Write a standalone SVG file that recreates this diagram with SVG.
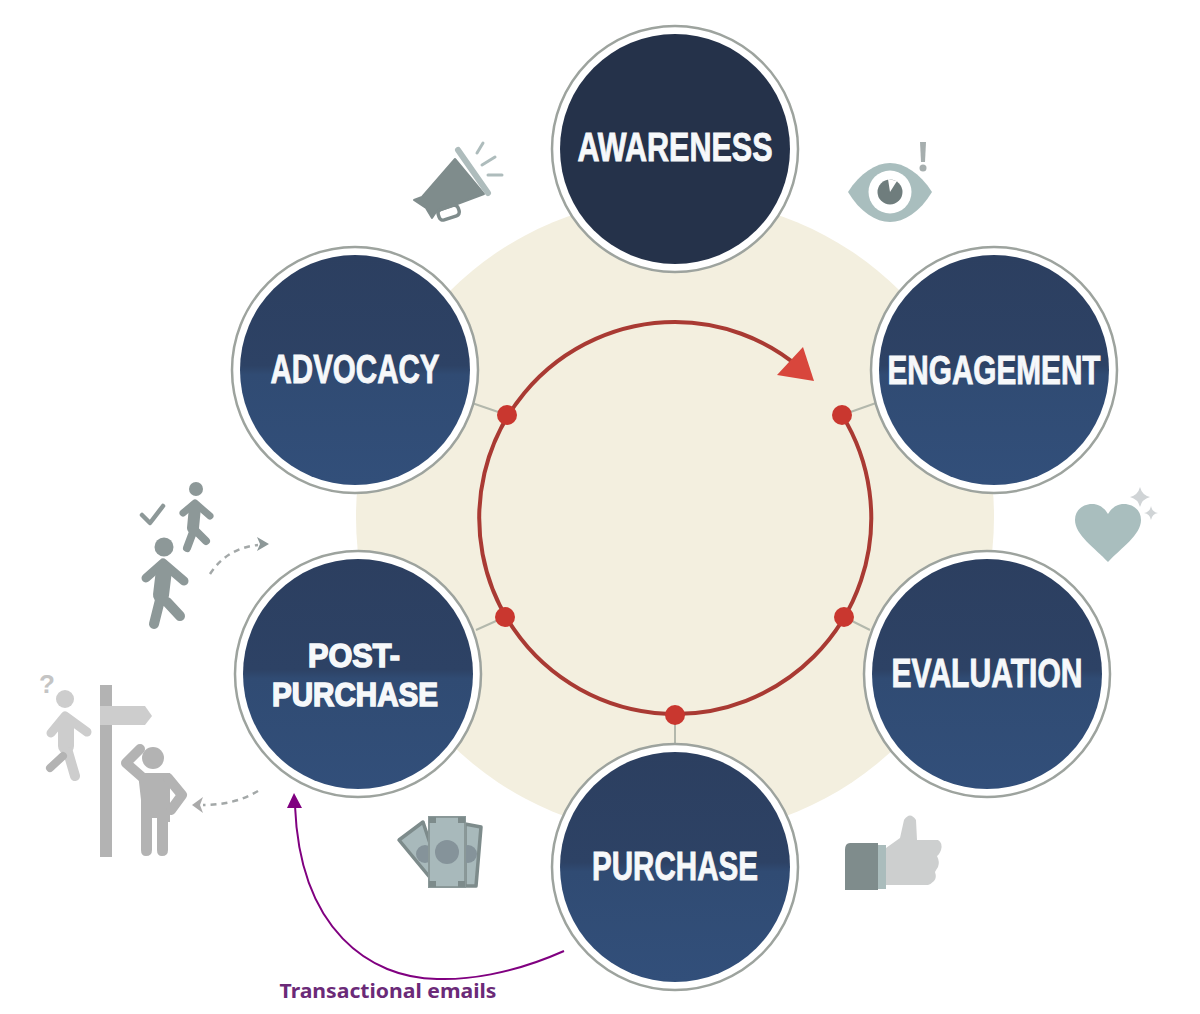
<svg xmlns="http://www.w3.org/2000/svg" width="1200" height="1014" viewBox="0 0 1200 1014">
<style>
.out{fill:#fff;stroke:#9da39e;stroke-width:2.5}
.lbl{font-family:"Liberation Sans",Arial,sans-serif;font-weight:700;font-size:40px;fill:#f6f8fa;stroke:#f6f8fa;stroke-width:.9;text-anchor:middle}
.lbl2{font-size:33.5px;stroke-width:1.6}
.spoke{stroke:#b3b8ac;stroke-width:2;fill:none}
.dot{fill:#c9372f}
.dash{fill:none;stroke:#a3a8a8;stroke-width:2.5;stroke-dasharray:6 5}
.lim{stroke-linecap:round;stroke-linejoin:round;fill:none}
</style>
<defs>
<linearGradient id="nodeFill" x1="0" y1="0" x2="0" y2="1">
<stop offset="0" stop-color="#2c3f60"/><stop offset="0.48" stop-color="#2d4265"/><stop offset="0.52" stop-color="#304b73"/><stop offset="1" stop-color="#324f7a"/>
</linearGradient>
</defs>
<rect width="1200" height="1014" fill="#fff"/>
<circle id="backdrop" cx="675" cy="517" r="319" fill="#f3efdf"/>
<g id="connectors">
<path class="spoke" d="M842,415L876,403M507,415L472,403M505,617L476,630M844,617L870,630M675,715V746"/>
<path id="cycle" d="M842,415A196,196 0 1 1 675,322C720,322 765,338 800,368" fill="none" stroke="#a93a33" stroke-width="4"/>
<polygon points="803,347 814,381 777,375" fill="#d8463c"/>
<circle class="dot" cx="507" cy="415" r="10"/>
<circle class="dot" cx="842" cy="415" r="10"/>
<circle class="dot" cx="505" cy="617" r="10"/>
<circle class="dot" cx="844" cy="617" r="10"/>
<circle class="dot" cx="675" cy="715" r="10"/>
<path class="dash" d="M210,574Q227,548 258,545"/>
<polygon points="257,537 269,544 257,551 260,544" fill="#8d9898"/>
<path class="dash" d="M258,791Q235,805 203,805"/>
<polygon points="203,797 192,805 203,813 200,805" fill="#aaa"/>
<path d="M564,951C510,975 465,980 437,979C370,978 300,930 295,806" fill="none" stroke="#800080" stroke-width="2"/>
<polygon points="294,793 287,808 302,808" fill="#800080"/>
</g>
<g id="awareness">
<circle class="out" cx="675" cy="149" r="123"/><circle cx="675" cy="149" r="115" fill="#25324a"/>
<text class="lbl" x="675" y="161" textLength="195" lengthAdjust="spacingAndGlyphs">AWARENESS</text>
</g>
<g id="engagement">
<circle class="out" cx="994" cy="370" r="123"/><circle cx="994" cy="370" r="115" fill="url(#nodeFill)"/>
<text class="lbl" x="994" y="384" textLength="213" lengthAdjust="spacingAndGlyphs">ENGAGEMENT</text>
</g>
<g id="evaluation">
<circle class="out" cx="987" cy="674" r="123"/><circle cx="987" cy="674" r="115" fill="url(#nodeFill)"/>
<text class="lbl" x="987" y="687" textLength="191" lengthAdjust="spacingAndGlyphs">EVALUATION</text>
</g>
<g id="purchase">
<circle class="out" cx="675" cy="867" r="123"/><circle cx="675" cy="867" r="115" fill="url(#nodeFill)"/>
<text class="lbl" x="675" y="880" textLength="166" lengthAdjust="spacingAndGlyphs">PURCHASE</text>
</g>
<g id="post-purchase">
<circle class="out" cx="358" cy="674" r="123"/><circle cx="358" cy="674" r="115" fill="url(#nodeFill)"/>
<text class="lbl lbl2" x="354" y="667" textLength="92" lengthAdjust="spacingAndGlyphs">POST-</text>
<text class="lbl lbl2" x="355" y="705.5" textLength="166" lengthAdjust="spacingAndGlyphs">PURCHASE</text>
</g>
<g id="advocacy">
<circle class="out" cx="355" cy="370" r="123"/><circle cx="355" cy="370" r="115" fill="url(#nodeFill)"/>
<text class="lbl" x="355" y="383" textLength="169" lengthAdjust="spacingAndGlyphs">ADVOCACY</text>
</g>
<g id="icon-megaphone">
<polygon points="455,159 484,194 436,212 432,218 426,208 414,200 422,197" fill="#7f8c8c" stroke="#7f8c8c" stroke-width="2" stroke-linejoin="round"/>
<rect x="438" y="207" width="21" height="11" rx="4" transform="rotate(-18 449 212)" fill="none" stroke="#7f8c8c" stroke-width="3.5"/>
<path d="M458,150L488,193" stroke="#aebcbc" stroke-width="6" stroke-linecap="round"/>
<path d="M477,153L483,143M482,165L495,157M488,175L502,175" stroke="#aebcbc" stroke-width="3" stroke-linecap="round"/>
</g>
<g id="icon-eye">
<path d="M848,192C860,173 876,163 890,163C904,163 920,173 932,192C920,212 904,222 890,222C876,222 860,212 848,192Z" fill="#a9bebe"/>
<circle cx="890" cy="192" r="21.5" fill="#fff"/>
<circle cx="890" cy="192" r="12.5" fill="#6f7d7d"/>
<path d="M890,192L888,179L897,181Z" fill="#fff"/>
<path d="M920,142H926L925,162H921Z" fill="#a6aeae"/><circle cx="923" cy="168" r="3.5" fill="#a6aeae"/>
</g>
<g id="icon-heart">
<path d="M1108,562C1095,548 1075,535 1075,520C1075,510 1083,504 1092,504C1100,504 1105,509 1108,514C1111,509 1116,504 1124,504C1133,504 1141,510 1141,520C1141,535 1121,548 1108,562Z" fill="#a9bebe"/>
<path d="M1140,487Q1142,495 1150,497Q1142,499 1140,507Q1138,499 1130,497Q1138,495 1140,487Z" fill="#d0d4d6"/>
<path d="M1151,506Q1152,512 1158,513Q1152,514 1151,520Q1150,514 1144,513Q1150,512 1151,506Z" fill="#d0d4d6"/>
</g>
<g id="icon-thumb">
<path d="M886,848L900,838L904,820Q910,811 916,820L917,840H938Q943,843 941,850Q939,855 937,856Q940,862 938,867Q936,870 935,872Q937,878 934,881Q931,884 928,885H886Z" fill="#cdcfcf"/>
<rect x="878" y="845" width="8" height="44" fill="#aabcbc"/>
<path d="M850,843H878V890H845V850Q845,843 850,843Z" fill="#7f8c8c"/>
</g>
<g id="icon-money">
<polygon points="399,840 423,822 442,880 432,880" fill="#a8b9bb" stroke="#7d8b8b" stroke-width="3.5" stroke-linejoin="round"/>
<polygon points="465,824 481,827 476,886 465,886" fill="#a8b9bb" stroke="#7d8b8b" stroke-width="3.5" stroke-linejoin="round"/>
<circle cx="425" cy="854" r="9" fill="#85939a"/><circle cx="468" cy="854" r="9" fill="#85939a"/>
<rect x="429" y="817" width="36" height="70" fill="#a8b9bb" stroke="#8a9898" stroke-width="2"/>
<circle cx="447" cy="852" r="12" fill="#85939a"/>
<path d="M429,817h7v6h-7zM458,817h7v6h-7zM429,881h7v6h-7zM458,881h7v6h-7z" fill="#7d8b8b"/>
</g>
<g id="icon-walkers">
<circle cx="196" cy="489" r="7" fill="#8d9898"/>
<path class="lim" stroke="#8d9898" stroke-width="7" d="M183,513L195,503L210,516"/>
<path class="lim" stroke="#8d9898" stroke-width="12" d="M195,507L193,528"/>
<path class="lim" stroke="#8d9898" stroke-width="8" d="M193,532L187,548M195,530L206,541"/>
<path class="lim" stroke="#8d9898" stroke-width="4.5" d="M142,515L150,523L163,506"/>
<circle cx="164" cy="547" r="9.5" fill="#8d9898"/>
<path class="lim" stroke="#8d9898" stroke-width="9" d="M146,578L163,563L184,581"/>
<path class="lim" stroke="#8d9898" stroke-width="16" d="M164,570L161,595"/>
<path class="lim" stroke="#8d9898" stroke-width="10" d="M160,600L154,624M167,602L180,616"/>
</g>
<g id="icon-crossroads">
<rect x="100" y="685" width="12" height="172" fill="#b3b3b3"/>
<polygon points="100,706 145,706 152,716 145,725 100,725" fill="#cdcdcd"/>
<text x="47" y="693" font-family="Liberation Sans,Arial,sans-serif" font-size="26" font-weight="700" fill="#c4c4c4" text-anchor="middle">?</text>
<circle cx="65" cy="699" r="9" fill="#cdcdcd"/>
<path class="lim" stroke="#cdcdcd" stroke-width="9" d="M51,733L65,716L87,732"/>
<path class="lim" stroke="#cdcdcd" stroke-width="16" d="M66,722V746"/>
<path class="lim" stroke="#cdcdcd" stroke-width="10" d="M68,752L75,776"/>
<path class="lim" stroke="#b3b3b3" stroke-width="8" d="M50,768L63,756"/>
<circle cx="153" cy="758" r="11" fill="#b3b3b3"/>
<path class="lim" stroke="#b3b3b3" stroke-width="10" d="M140,749L126,763L142,777"/>
<path d="M138,773H170V822H168V850Q168,856 162,856Q157,856 157,850V818H152V850Q152,856 146,856Q141,856 141,850V800Z" fill="#b3b3b3"/>
<path class="lim" stroke="#b3b3b3" stroke-width="10" d="M168,778L182,795L171,810"/>
</g>
<text id="label-transactional" x="388" y="998" font-family="Noto Sans,DejaVu Sans,sans-serif" font-weight="700" font-size="20" fill="#6b2a78" text-anchor="middle" textLength="217" lengthAdjust="spacingAndGlyphs">Transactional emails</text>
</svg>
